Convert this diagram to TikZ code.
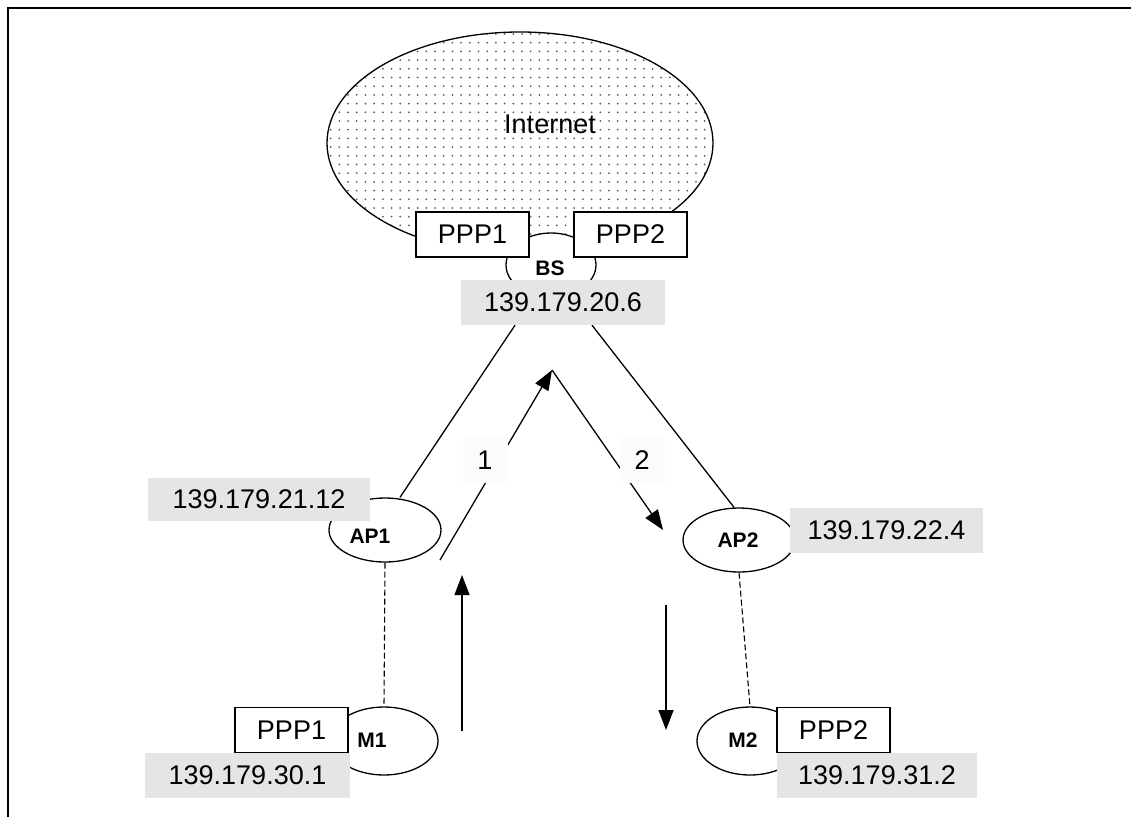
\documentclass[tikz,border=0pt]{standalone}
\usepackage{fontspec}
\setmainfont{Liberation Sans}
\usetikzlibrary{shapes.geometric,patterns.meta,arrows.meta}
\tikzset{
  txt/.style={font=\fontsize{27}{32}\selectfont, inner sep=0pt},
  btxt/.style={font=\fontsize{21}{25}\selectfont\bfseries, inner sep=0pt},
  oval/.style={ellipse, draw, line width=1.3pt, fill=white, inner sep=0pt},
  pppbox/.style={rectangle, draw, line width=1.3pt, fill=white, inner sep=0pt,
     minimum width=113pt, minimum height=45pt, font=\fontsize{27}{32}\selectfont},
  ipbox/.style={rectangle, fill=black!10, inner sep=0pt, minimum height=45pt,
     font=\fontsize{27}{32}\selectfont},
  numbox/.style={rectangle, fill=black!1.5, inner sep=0pt, minimum width=45pt,
     minimum height=45pt, font=\fontsize{27}{32}\selectfont},
  link/.style={line width=1.3pt},
  wire/.style={line width=1.1pt, dash pattern=on 6pt off 3pt},
  flow/.style={line width=1.3pt, -{Triangle[length=20pt,width=15pt]}},
}
\begin{document}
\begin{tikzpicture}[x=1pt,y=-1pt]
\useasboundingbox (0,0) rectangle (1131,817);
\draw[line width=2.5pt] (8,817) -- (8,8) -- (1131,8);

% Internet cloud
\node[ellipse, draw, line width=1.3pt, minimum width=386pt, minimum height=222pt,
      pattern={Dots[distance=8.7pt, radius=1pt]}, pattern color=black!65] (inet) at (520,143) {};
\node[txt] (inettxt) at (550,124) {Internet};

% base station
\node[oval, minimum width=90pt, minimum height=64pt] (bs) at (551,265) {};
\node[btxt] (bstxt) at (550,268) {BS};
\node[pppbox] (ppp1t) at (472.5,234.5) {PPP1};
\node[pppbox] (ppp2t) at (630.5,234.5) {PPP2};
\node[ipbox, minimum width=204pt] (bsip) at (563,302.5) {139.179.20.6};

% access points
\node[oval, minimum width=112pt, minimum height=64pt] (ap1) at (385,530) {};
\node[btxt] (ap1txt) at (370,536) {AP1};
\node[oval, minimum width=112pt, minimum height=64pt] (ap2) at (739,540) {};
\node[btxt] (ap2txt) at (738,540) {AP2};
\node[ipbox, minimum width=222pt, minimum height=43pt] (ap1ip) at (259,499) {139.179.21.12};
\node[ipbox, minimum width=193pt] (ap2ip) at (886.5,530) {139.179.22.4};

% mobiles
\node[oval, minimum width=108pt, minimum height=68pt] (m1) at (384,741) {};
\node[btxt] (m1txt) at (372,740) {M1};
\node[pppbox] (ppp1m) at (291.5,730) {PPP1};
\node[ipbox, minimum width=205pt] (m1ip) at (247.5,775) {139.179.30.1};
\node[oval, minimum width=106pt, minimum height=68pt] (m2) at (750,741) {};
\node[btxt] (m2txt) at (743,740) {M2};
\node[pppbox] (ppp2m) at (833.5,730) {PPP2};
\node[ipbox, minimum width=200pt] (m2ip) at (877,775) {139.179.31.2};

% links
\draw[link] ([xshift=-48pt]bsip.south) -- ([xshift=15pt]ap1.north);
\draw[link] ([xshift=29pt]bsip.south) -- ([xshift=-5pt]ap2.north);
\draw[wire] (ap1.south) -- (m1.north);
\draw[wire] (ap2.south) -- (m2.north);

% flows
\coordinate (a1s) at (440,560);
\coordinate (apex) at (552,370);
\coordinate (a2t) at (663,530);
\coordinate (u1) at (462,731);
\coordinate (u2) at (462,575);
\coordinate (d1) at (666,605);
\coordinate (d2) at (666,730);
\draw[flow] (a1s) -- (apex);
\draw[flow] (apex) -- (a2t);
\draw[flow] (u1) -- (u2);
\draw[flow] (d1) -- (d2);
\node[numbox] (n1) at (485,460) {1};
\node[numbox] (n2) at (642,460) {2};
\end{tikzpicture}
\end{document}
